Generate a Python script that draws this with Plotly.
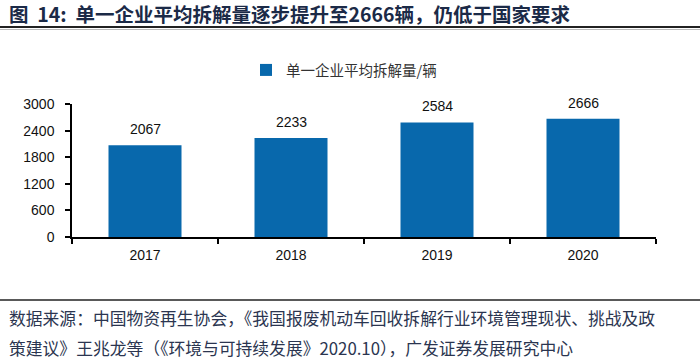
import plotly.graph_objects as go

years = ["2017", "2018", "2019", "2020"]
values = [2067, 2233, 2584, 2666]
series_name = "单一企业平均拆解量/辆"
title_text = "图  14:  单一企业平均拆解量逐步提升至2666辆，仍低于国家要求"
source_line1 = "数据来源：中国物资再生协会，《我国报废机动车回收拆解行业环境管理现状、挑战及政"
source_line2 = "策建议》王兆龙等（《环境与可持续发展》2020.10），广发证券发展研究中心"
y_ticks = [0, 600, 1200, 1800, 2400, 3000]

W, H = 700, 361
L, R, T, B = 72, 656, 104, 237
pw, ph = R - L, B - T

def px(x):
    return (x - L) / pw

def py(y):
    return (B - y) / ph

bar_color = "#0868AC"
navy = "#1B2A47"
num_font = "Liberation Sans, Arial, sans-serif"
cjk_font = "Noto Sans CJK SC, sans-serif"

fig = go.Figure()
fig.add_trace(go.Bar(
    x=years, y=values, name=series_name,
    marker=dict(color=bar_color, line=dict(width=0)),
    width=0.5,
))

annotations = []
for i, v in enumerate(values):
    annotations.append(dict(
        x=i, y=v, xref="x", yref="y", text=str(v), showarrow=False,
        yanchor="middle", yshift=16,
        font=dict(family=num_font, size=14, color="#111111"),
    ))

annotations.append(dict(
    x=px(7), y=py(14), xref="paper", yref="paper", xanchor="left", yanchor="middle",
    text="<b>" + title_text + "</b>",
    showarrow=False, font=dict(family=cjk_font, size=19.5, color=navy),
))
annotations.append(dict(
    x=px(7), y=py(318), xref="paper", yref="paper", xanchor="left", yanchor="middle",
    text=source_line1, showarrow=False,
    font=dict(family=cjk_font, size=16.8, color="#2B3550"),
))
annotations.append(dict(
    x=px(7), y=py(348), xref="paper", yref="paper", xanchor="left", yanchor="middle",
    text=source_line2, showarrow=False,
    font=dict(family=cjk_font, size=16.8, color="#2B3550"),
))

shapes = [
    dict(type="line", xref="paper", yref="paper", x0=px(0), x1=px(700), y0=py(27), y1=py(27),
         line=dict(color="#222222", width=2)),
    dict(type="line", xref="paper", yref="paper", x0=px(0), x1=px(700), y0=py(29.5), y1=py(29.5),
         line=dict(color="#BBBBBB", width=1)),
    dict(type="line", xref="paper", yref="paper", x0=px(0), x1=px(700), y0=py(300), y1=py(300),
         line=dict(color="#222222", width=1.5)),
]

fig.update_layout(
    width=W, height=H, autosize=False,
    margin=dict(l=L, r=W - R, t=T, b=H - B, pad=0),
    paper_bgcolor="white", plot_bgcolor="white",
    showlegend=True,
    legend=dict(
        orientation="h", x=px(344), y=py(70), xanchor="center", yanchor="middle",
        font=dict(family=cjk_font, size=14.5, color="#333333"),
        itemwidth=30, bgcolor="rgba(0,0,0,0)",
    ),
    annotations=annotations,
    shapes=shapes,
    bargap=0.5,
    xaxis=dict(
        type="category", showline=True, linecolor="#000000", linewidth=1.5,
        ticks="outside", tickson="boundaries", ticklen=5, tickcolor="#000000", tickwidth=1.5,
        showgrid=False, tickfont=dict(family=num_font, size=14, color="#111111"),
        ticklabelstandoff=4, automargin=False, tickangle=0,
    ),
    yaxis=dict(
        range=[0, 3000], tickvals=y_ticks, ticktext=[str(t) for t in y_ticks],
        showline=True, linecolor="#000000", linewidth=1.5,
        ticks="outside", ticklen=5, tickcolor="#000000", tickwidth=1.5,
        showgrid=False, zeroline=False, automargin=False,
        tickfont=dict(family=num_font, size=14, color="#111111"),
        ticklabelstandoff=8,
    ),
)

fig.write_html("out.html", config={"displayModeBar": False},
               post_script="document.body.style.margin='0px';")
